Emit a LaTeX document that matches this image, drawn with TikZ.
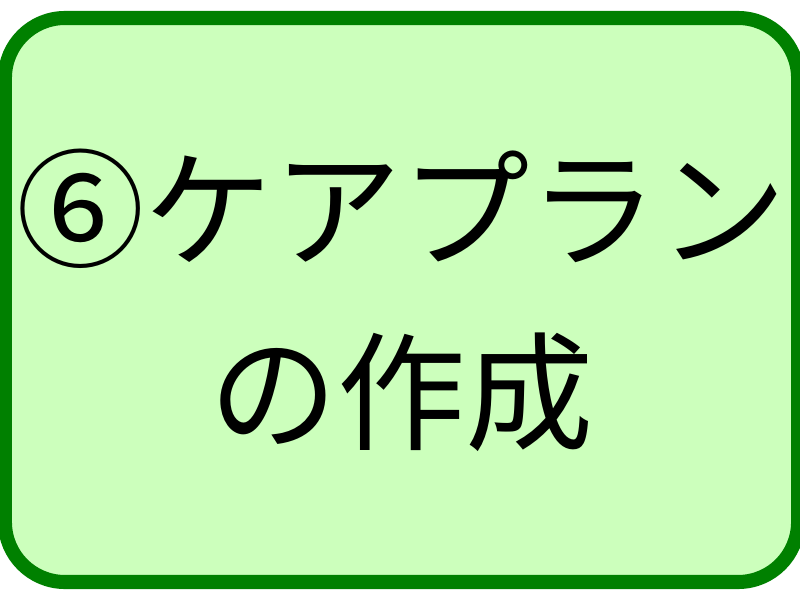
\documentclass[tikz,border=0pt]{standalone}
\usepackage{fontspec}
\newfontfamily\cjk{Noto Sans CJK JP}
\definecolor{boxgreen}{RGB}{0,128,0}
\definecolor{boxfill}{RGB}{204,255,188}
\begin{document}
\begin{tikzpicture}
                \tikzstyle{roundrect} = [rectangle, rounded corners=0.6cm, minimum width=7.89cm, minimum height=5.64cm, text centered, align=center, draw=boxgreen, line width=4pt, fill=boxfill, font=\cjk\fontsize{36.5}{52}\selectfont]
                \useasboundingbox (0,0) rectangle (8,6);
                \node (plan) [roundrect] at (4.015,3) {⑥ケアプラン\\の作成};
            \end{tikzpicture}
\end{document}
